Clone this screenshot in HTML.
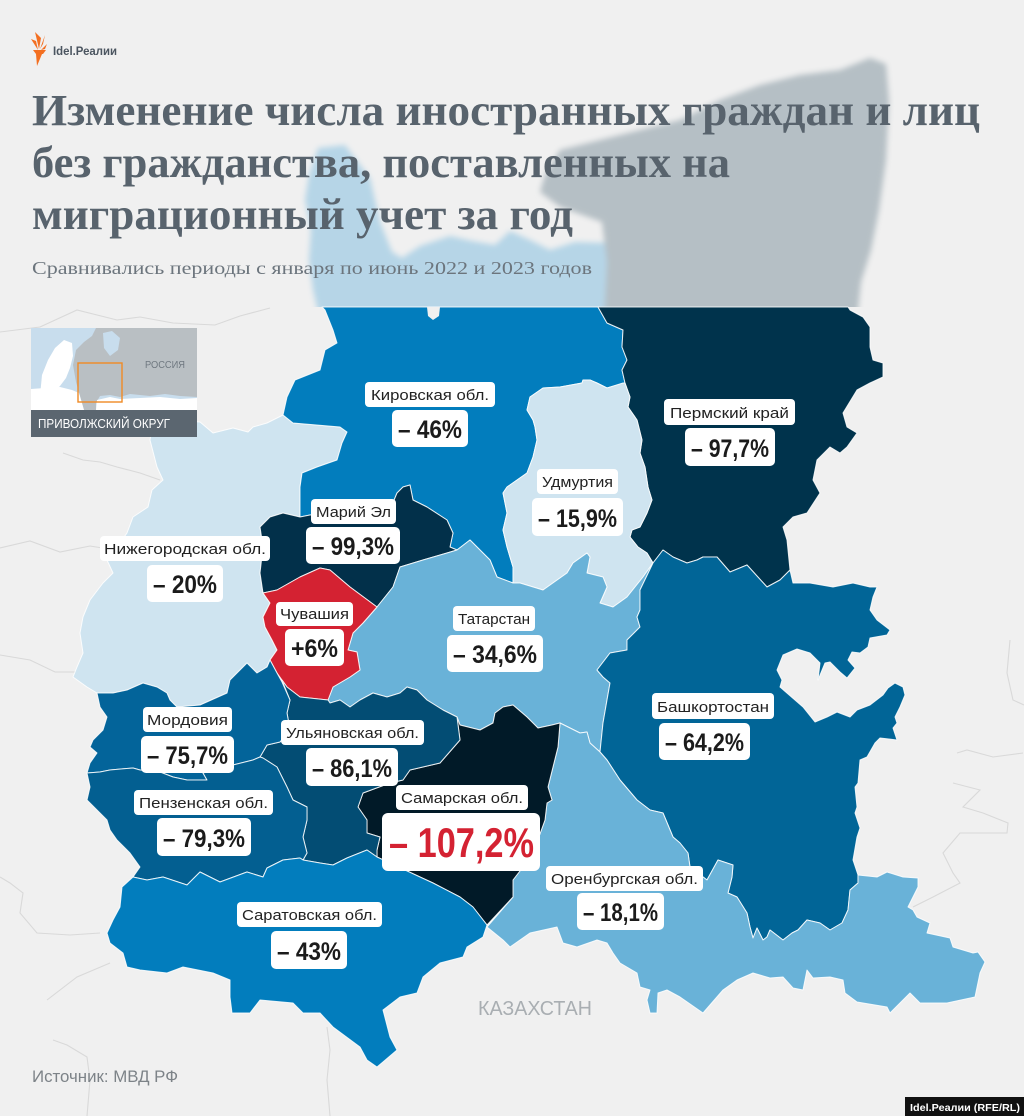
<!DOCTYPE html>
<html><head><meta charset="utf-8"><style>
html,body{margin:0;padding:0;background:#f0f0f0;}
svg{display:block;}
.lb{font-family:"Liberation Sans",sans-serif;font-size:15px;fill:#222;}
.vl{font-family:"Liberation Sans",sans-serif;font-size:25px;font-weight:bold;fill:#1b1b1b;}
</style></head><body>
<svg width="1024" height="1116" viewBox="0 0 1024 1116" xmlns="http://www.w3.org/2000/svg">
<defs>
<filter id="bl" x="-10%" y="-10%" width="120%" height="120%"><feGaussianBlur stdDeviation="3"/></filter>
<clipPath id="topclip"><rect x="0" y="0" width="1024" height="307"/></clipPath>
</defs>
<rect width="1024" height="1116" fill="#f0f0f0"/>

<!-- faint background boundaries -->
<g fill="none" stroke="#d9d9d9" stroke-width="1.1">
<polyline points="0,332 40,327 77,310 117,320 140,317 173,323 215,325 240,316 270,308"/>
<polyline points="63,453 83,460 100,462 117,467 140,473 160,480"/>
<polyline points="0,548 30,541 60,552 90,546 115,550"/>
<polyline points="0,655 30,660 55,672 75,672"/>
<polyline points="0,877 10,883 23,893 20,913 37,933 70,935 100,933"/>
<polyline points="47,1000 77,977 110,963"/>
<polyline points="53,1040 67,1045 87,1057 90,1080 87,1116"/>
<polyline points="327,1027 330,1050 327,1080 330,1116"/>
<polyline points="1010,640 1007,673 1013,700 1024,705"/>
<polyline points="957,753 967,750 993,757 1023,753"/>
<polyline points="953,783 980,790 963,807 983,813 1008,823 1007,833 960,833 943,853 953,873 960,883 933,897 913,907"/>
</g>

<!-- faded upper map -->
<g clip-path="url(#topclip)" filter="url(#bl)">
<polygon fill="#b6d5e7" points="318,148 345,145 360,165 370,178 375,200 380,222 392,252 402,258 420,246 450,236 472,241 495,245 510,231 530,240 550,250 575,242 610,243 612,320 320,320 313,290 309,260 311,230 305,200 309,175"/>
<polygon fill="#b5bfc5" points="545,175 560,150 600,140 640,130 680,120 720,100 760,85 800,75 840,70 870,58 886,64 889,100 886,160 879,210 871,250 861,282 857,320 604,320 607,262 602,222 560,207 540,192"/>
</g>

<!-- crisp map -->
<g stroke="#ffffff" stroke-width="1" stroke-linejoin="round" stroke-opacity="0.85">
<polygon fill="#cfe4f0" points="153,423 173,420 200,422 213,433 233,428 248,432 253,427 267,423 283,415 293,423 340,427 347,432 342,443 337,460 317,467 302,473 300,487 300,517 283,513 270,517 260,527 263,547 260,573 263,593 270,603 263,617 265,627 272,640 277,650 270,660 267,667 257,673 247,663 230,680 227,693 200,705 177,707 170,700 167,693 157,687 143,683 127,690 113,693 97,693 87,687 73,677 77,667 83,653 80,633 83,617 90,600 103,583 113,573 107,560 117,547 127,533 133,517 148,507 152,490 163,480 157,467 150,440"/>
<polygon fill="#027dbd" points="322,307 598,307 607,323 623,330 622,347 627,360 622,370 625,383 607,388 597,383 590,380 583,380 582,383 560,387 543,388 530,397 527,410 533,420 535,427 537,440 533,457 527,473 507,487 503,493 507,513 503,530 507,547 513,567 513,583 497,577 490,560 483,553 470,540 457,550 450,547 453,533 447,520 427,507 413,500 410,485 403,487 397,493 390,510 310,515 300,517 300,487 302,473 317,467 337,460 342,443 347,432 340,427 293,423 283,415 287,397 295,380 320,370 325,350 337,343 333,330 325,310"/>
<polygon fill="#f0f0f0" stroke="none" points="427,307 440,307 439,316 433,320 428,316"/>
<polygon fill="#00334c" points="598,307 848,307 850,310 863,317 870,327 870,347 873,360 883,363 883,377 870,383 857,390 843,413 847,427 857,433 847,447 840,453 830,447 817,460 813,480 820,493 807,513 793,517 783,527 787,540 790,570 780,580 767,587 747,565 730,572 717,557 703,557 697,560 687,563 673,557 663,550 653,563 647,553 638,547 630,537 632,530 640,527 647,513 652,500 648,487 645,467 640,453 642,440 637,420 628,407 630,397 625,383 622,370 627,360 622,347 623,330 607,323"/>
<polygon fill="#cfe4f0" points="530,397 543,388 560,387 582,383 583,380 590,380 597,383 607,388 623,383 625,383 630,397 628,407 637,420 642,440 640,453 645,467 648,487 652,500 647,513 640,527 632,530 630,537 638,547 647,553 653,563 643,577 627,597 613,607 600,603 607,587 603,577 587,573 590,557 587,553 573,563 567,573 543,590 520,583 513,583 513,567 507,547 503,530 507,513 503,493 507,487 527,473 533,457 537,440 535,427 533,420 527,410"/>
<polygon fill="#02304a" points="260,527 270,517 283,513 300,517 310,515 390,510 397,493 403,487 410,485 413,500 427,507 447,520 453,533 450,547 457,550 447,553 423,560 400,567 393,587 377,607 350,587 330,570 320,568 300,577 277,590 263,593 260,573 263,547"/>
<polygon fill="#69b2d8" points="377,607 393,587 400,567 423,560 447,553 457,550 470,540 483,553 490,560 497,577 513,583 520,583 543,590 567,573 573,563 587,553 590,557 587,573 603,577 607,587 600,603 613,607 627,597 643,577 653,563 640,590 640,610 637,617 640,627 627,640 627,650 610,653 597,670 603,677 610,683 607,700 603,723 600,752 590,743 587,732 580,733 560,723 552,725 538,728 527,717 513,705 503,707 495,713 493,723 480,730 460,725 457,717 443,710 427,700 417,690 407,687 400,693 387,697 373,693 360,700 350,707 340,700 330,703 328,700 333,687 350,677 360,670 357,652 348,650 353,633 363,623"/>
<polygon fill="#d42232" points="263,593 277,590 300,577 320,568 330,570 350,587 377,607 363,623 353,633 348,650 357,652 360,670 350,677 333,687 328,700 300,697 287,687 277,673 270,660 277,650 272,640 265,627 263,617 270,603"/>
<polygon fill="#016597" points="653,563 663,550 673,557 687,563 697,560 703,557 717,557 730,572 747,565 767,587 780,580 790,570 793,583 810,583 833,587 853,583 870,587 877,587 873,597 870,610 877,620 890,630 887,635 870,638 868,647 860,653 852,652 848,660 855,668 847,678 840,672 830,662 825,663 818,680 820,663 810,653 797,649 783,655 777,670 782,680 780,687 803,707 815,722 827,717 837,712 850,717 857,710 870,705 883,695 888,688 895,683 903,687 905,695 900,707 895,717 897,723 893,728 897,740 880,738 875,743 867,757 860,760 858,783 855,787 857,807 855,813 860,828 857,837 853,860 858,875 858,883 850,890 848,910 842,923 830,930 820,923 807,920 798,930 792,933 783,940 770,930 767,937 763,940 757,928 753,938 750,927 747,913 737,897 728,893 732,877 733,865 718,860 707,880 690,867 688,853 680,843 673,837 663,813 650,810 637,800 620,780 607,760 600,752 603,723 607,700 610,683 603,677 597,670 610,653 627,650 627,640 640,627 637,617 640,610 640,590"/>
<polygon fill="#69b2d8" points="560,723 580,733 587,732 590,743 600,752 607,760 620,780 637,800 650,810 663,813 673,837 680,843 688,853 690,867 707,880 718,860 733,865 732,877 728,893 737,897 747,913 750,927 753,938 757,928 763,940 767,937 770,930 783,940 792,933 798,930 807,920 820,923 830,930 842,923 848,910 850,890 858,883 858,875 877,877 887,872 903,877 918,878 918,887 913,897 908,907 913,910 917,917 930,923 927,933 950,938 953,947 963,950 973,953 978,952 985,962 980,973 975,997 947,1003 920,1003 910,993 890,1013 887,1007 857,1002 845,993 843,980 830,977 813,978 807,970 803,990 793,988 783,977 770,978 753,973 737,980 723,990 703,1013 680,997 667,990 658,993 657,1013 650,1013 647,1000 650,990 640,987 637,973 620,963 613,953 607,943 597,940 577,947 563,943 557,927 530,933 510,947 503,940 487,927 513,897 513,880 523,867 533,853 545,820 547,803 552,800 548,787 553,767 558,747"/>
<polygon fill="#011a28" points="457,717 460,725 480,730 493,723 495,713 503,707 513,705 527,717 538,728 552,725 560,723 558,747 553,767 548,787 552,800 547,803 545,820 533,853 523,867 513,880 513,897 487,925 473,907 460,897 433,883 420,877 377,857 377,850 380,837 367,833 367,820 358,807 363,793 390,783 403,780 410,770 440,763 460,740"/>
<polygon fill="#034d74" points="282,680 287,687 300,697 328,700 330,703 340,700 350,707 360,700 373,693 387,697 400,693 407,687 417,690 427,700 443,710 457,717 460,740 440,763 410,770 403,780 390,783 363,793 358,807 367,820 367,833 380,837 377,850 377,857 367,850 347,858 333,865 320,863 303,860 307,853 303,837 307,820 307,807 293,800 287,787 277,767 263,758 260,757 267,745 280,742 290,730 287,713 290,700"/>
<polygon fill="#03649a" points="97,693 113,693 127,690 143,683 157,687 167,693 170,700 177,707 200,705 227,693 230,680 247,663 257,673 267,667 270,660 277,673 282,682 290,700 287,713 290,730 280,742 267,745 260,757 253,760 233,765 203,773 207,780 187,780 173,777 160,772 140,770 133,768 110,770 100,772 87,773 90,763 97,753 90,747 93,740 103,730 107,717 100,707"/>
<polygon fill="#035f91" points="87,773 100,772 110,770 133,768 140,770 160,772 173,777 187,780 207,780 203,773 233,765 253,760 260,757 263,758 277,767 287,787 293,800 307,807 307,820 303,837 307,853 303,860 300,858 283,860 267,868 263,877 247,872 220,882 200,872 187,885 163,877 147,880 133,877 140,867 130,853 117,840 110,830 107,820 97,810 87,800 90,787"/>
<polygon fill="#027dbd" points="133,877 147,880 163,877 187,885 200,872 220,882 247,872 263,877 267,868 283,860 300,858 303,860 320,863 333,865 347,858 367,850 377,857 420,877 433,883 460,897 473,907 487,925 483,937 467,947 463,957 440,963 423,977 417,993 400,997 383,1010 390,1037 397,1050 377,1067 367,1060 360,1047 333,1027 320,1013 303,1013 293,1003 260,1000 250,1013 232,1013 230,997 230,980 213,973 183,967 167,973 140,970 127,967 123,953 110,943 107,933 113,920 120,907 122,887"/>
</g>

<!-- logo -->
<g fill="#f36f21">
<polygon points="38,50 31,39 36,41"/>
<polygon points="39,49 35,32 41,38"/>
<polygon points="40,49 45,35 43,44"/>
<polygon points="41,50 47,44 45,49"/>
<polygon points="33,50 46,50 43,54 36,54"/>
<polygon points="36,54 42,54 37,66"/>
</g>
<text x="53" y="55" font-family="Liberation Sans, sans-serif" font-size="12" font-weight="bold" fill="#4b5560" textLength="64" lengthAdjust="spacingAndGlyphs">Idel.Реалии</text>

<!-- title -->
<g font-family="Liberation Serif, 'Noto Serif CJK SC', serif" font-weight="bold" font-size="44" fill="#58636d">
<text x="32" y="125" textLength="948" lengthAdjust="spacingAndGlyphs">Изменение числа иностранных граждан и лиц</text>
<text x="32" y="177" textLength="698" lengthAdjust="spacingAndGlyphs">без гражданства, поставленных на</text>
<text x="32" y="229" textLength="541" lengthAdjust="spacingAndGlyphs">миграционный учет за год</text>
</g>
<text x="32" y="274" font-family="Liberation Serif, serif" font-size="18" fill="#6c757d" textLength="560" lengthAdjust="spacingAndGlyphs">Сравнивались периоды с января по июнь 2022 и 2023 годов</text>

<!-- inset -->
<rect x="31" y="328" width="166" height="82" fill="#c8dded"/>
<polygon fill="#b9bfc3" points="76,350 84,342 92,336 96,328 197,328 197,397 180,396 165,394 150,396 130,394 120,397 110,395 100,396 96,403 96,410 84,410 80,396 76,382 73,365"/>
<polygon fill="#c8dded" points="103,333 112,331 120,338 118,350 110,356 104,348"/>
<polygon fill="#ffffff" points="40,396 42,375 48,360 55,348 64,340 72,343 73,356 70,368 66,378 60,386 57,389"/>
<polygon fill="#ffffff" points="31,389 45,388 60,387 72,390 79,393 84,410 31,410"/>
<polygon fill="#ffffff" points="97,400 110,397 120,399 140,398 160,397 180,399 197,398 197,410 96,410"/>
<rect x="78" y="363" width="44" height="39" fill="none" stroke="#f08a24" stroke-width="1.4"/>
<text x="145" y="368" font-family="Liberation Sans, sans-serif" font-size="10" fill="#6f7880" textLength="40" lengthAdjust="spacingAndGlyphs">РОССИЯ</text>
<rect x="31" y="410" width="166" height="27" fill="#5b6670"/>
<text x="38" y="428" font-family="Liberation Sans, sans-serif" font-size="12.5" fill="#ffffff" textLength="132" lengthAdjust="spacingAndGlyphs">ПРИВОЛЖСКИЙ ОКРУГ</text>

<!-- labels -->
<g fill="#ffffff">
<rect x="365" y="382" width="130" height="25" rx="4"/><rect x="392" y="410" width="76" height="37" rx="5"/>
<rect x="664" y="399" width="131" height="26" rx="4"/><rect x="685" y="428" width="90" height="38" rx="5"/>
<rect x="537" y="469" width="81" height="25" rx="4"/><rect x="532" y="498" width="91" height="38" rx="5"/>
<rect x="311" y="499" width="85" height="25" rx="4"/><rect x="306" y="527" width="94" height="37" rx="5"/>
<rect x="100" y="536" width="170" height="25" rx="4"/><rect x="147" y="565" width="76" height="37" rx="5"/>
<rect x="276" y="602" width="77" height="24" rx="4"/><rect x="285" y="629" width="59" height="37" rx="5"/>
<rect x="453" y="606" width="82" height="25" rx="4"/><rect x="447" y="635" width="96" height="37" rx="5"/>
<rect x="652" y="693" width="122" height="26" rx="4"/><rect x="659" y="723" width="91" height="37" rx="5"/>
<rect x="143" y="707" width="89" height="25" rx="4"/><rect x="141" y="736" width="93" height="37" rx="5"/>
<rect x="281" y="720" width="143" height="25" rx="4"/><rect x="306" y="748" width="92" height="38" rx="5"/>
<rect x="134" y="790" width="139" height="25" rx="4"/><rect x="157" y="818" width="94" height="38" rx="5"/>
<rect x="396" y="785" width="132" height="25" rx="4"/><rect x="382" y="813" width="158" height="58" rx="6"/>
<rect x="546" y="866" width="157" height="25" rx="4"/><rect x="577" y="893" width="87" height="37" rx="5"/>
<rect x="237" y="902" width="145" height="25" rx="4"/><rect x="271" y="931" width="76" height="38" rx="5"/>
</g>
<g class="lb">
<text class="lb" x="371" y="400" textLength="118" lengthAdjust="spacingAndGlyphs">Кировская обл.</text>
<text class="lb" x="670" y="418" textLength="119" lengthAdjust="spacingAndGlyphs">Пермский край</text>
<text class="lb" x="542" y="487" textLength="71" lengthAdjust="spacingAndGlyphs">Удмуртия</text>
<text class="lb" x="316" y="517" textLength="75" lengthAdjust="spacingAndGlyphs">Марий Эл</text>
<text class="lb" x="104" y="554" textLength="162" lengthAdjust="spacingAndGlyphs">Нижегородская обл.</text>
<text class="lb" x="280" y="619" textLength="69" lengthAdjust="spacingAndGlyphs">Чувашия</text>
<text class="lb" x="458" y="624" textLength="72" lengthAdjust="spacingAndGlyphs">Татарстан</text>
<text class="lb" x="657" y="712" textLength="112" lengthAdjust="spacingAndGlyphs">Башкортостан</text>
<text class="lb" x="147" y="725" textLength="81" lengthAdjust="spacingAndGlyphs">Мордовия</text>
<text class="lb" x="286" y="738" textLength="133" lengthAdjust="spacingAndGlyphs">Ульяновская обл.</text>
<text class="lb" x="139" y="808" textLength="129" lengthAdjust="spacingAndGlyphs">Пензенская обл.</text>
<text class="lb" x="401" y="803" textLength="122" lengthAdjust="spacingAndGlyphs">Самарская обл.</text>
<text class="lb" x="551" y="884" textLength="147" lengthAdjust="spacingAndGlyphs">Оренбургская обл.</text>
<text class="lb" x="242" y="920" textLength="135" lengthAdjust="spacingAndGlyphs">Саратовская обл.</text>
</g>
<g>
<text class="vl" x="398" y="438" textLength="64" lengthAdjust="spacingAndGlyphs">– 46%</text>
<text class="vl" x="691" y="457" textLength="78" lengthAdjust="spacingAndGlyphs">– 97,7%</text>
<text class="vl" x="538" y="527" textLength="79" lengthAdjust="spacingAndGlyphs">– 15,9%</text>
<text class="vl" x="312" y="555" textLength="82" lengthAdjust="spacingAndGlyphs">– 99,3%</text>
<text class="vl" x="153" y="593" textLength="64" lengthAdjust="spacingAndGlyphs">– 20%</text>
<text class="vl" x="291" y="657" textLength="47" lengthAdjust="spacingAndGlyphs">+6%</text>
<text class="vl" x="453" y="663" textLength="84" lengthAdjust="spacingAndGlyphs">– 34,6%</text>
<text class="vl" x="665" y="751" textLength="79" lengthAdjust="spacingAndGlyphs">– 64,2%</text>
<text class="vl" x="147" y="764" textLength="81" lengthAdjust="spacingAndGlyphs">– 75,7%</text>
<text class="vl" x="312" y="777" textLength="80" lengthAdjust="spacingAndGlyphs">– 86,1%</text>
<text class="vl" x="163" y="847" textLength="82" lengthAdjust="spacingAndGlyphs">– 79,3%</text>
<text class="vl" x="583" y="921" textLength="75" lengthAdjust="spacingAndGlyphs">– 18,1%</text>
<text class="vl" x="277" y="960" textLength="64" lengthAdjust="spacingAndGlyphs">– 43%</text>
<text x="389" y="857" font-family="Liberation Sans, sans-serif" font-size="42" font-weight="bold" fill="#d42232" textLength="145" lengthAdjust="spacingAndGlyphs">– 107,2%</text>
</g>

<text x="478" y="1015" font-family="Liberation Sans, sans-serif" font-size="20" fill="#a9aeb2" textLength="114" lengthAdjust="spacingAndGlyphs">КАЗАХСТАН</text>
<text x="32" y="1082" font-family="Liberation Sans, sans-serif" font-size="17" fill="#7d8388" textLength="146" lengthAdjust="spacingAndGlyphs">Источник: МВД РФ</text>
<rect x="905" y="1097" width="119" height="19" fill="#111111"/>
<text x="910" y="1111" font-family="Liberation Sans, sans-serif" font-size="10.5" font-weight="bold" fill="#ffffff" textLength="110" lengthAdjust="spacingAndGlyphs">Idel.Реалии (RFE/RL)</text>
</svg>
</body></html>
